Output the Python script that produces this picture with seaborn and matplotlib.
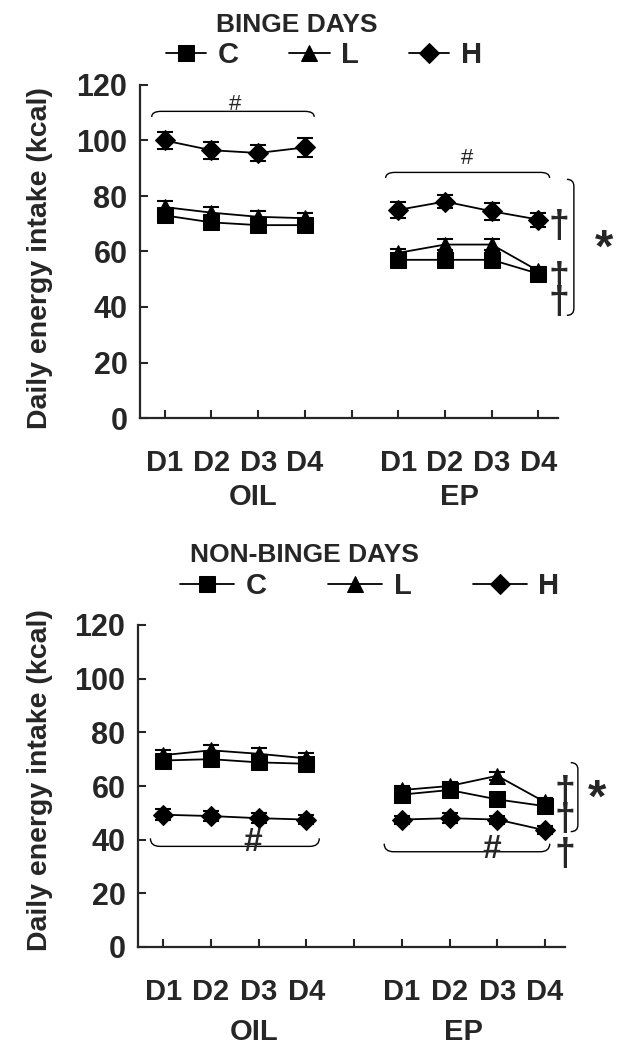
"""
Daily energy intake, binge vs non-binge days (OIL / EP)
"""

import matplotlib.pyplot as plt
import numpy as np
import pandas as pd
import seaborn as sns
from matplotlib.path import Path
from matplotlib.patches import PathPatch
from matplotlib.transforms import blended_transform_factory

days = ["D1", "D2", "D3", "D4"]
phases = ["OIL", "EP"]
groups = ["C", "L", "H"]
positions = [1, 2, 3, 4, 6, 7, 8, 9]

# binge days (OIL D1-D4, EP D1-D4)
binge_C = [73, 70.5, 69.5, 69.5, 57, 57, 57, 52]
binge_L = [76, 74, 72.5, 72, 59.5, 62.5, 62.5, 53]
binge_H = [100, 96.5, 95.5, 97.5, 75, 78, 74.5, 71.5]
binge_err_C = [2, 2, 2, 2, 1.5, 1.5, 1.5, 1.5]
binge_err_L = [2.2, 2.2, 2, 2, 1.5, 2, 2, 1.5]
binge_err_H = [3, 3, 3, 3.5, 3, 2.5, 3, 2.5]

# non-binge days
nonbinge_C = [69.5, 70, 68.8, 68.3, 56.8, 58.5, 55, 52.5]
nonbinge_L = [71.5, 73.3, 72, 70.3, 58.5, 60, 63.8, 54]
nonbinge_H = [49.3, 48.8, 48, 47.5, 47.5, 48, 47.5, 43.5]
nonbinge_err_C = [2, 2, 2, 2, 2, 1.5, 1.5, 1.5]
nonbinge_err_L = [1.8, 2, 2, 2, 1.5, 1.5, 1.5, 1.5]
nonbinge_err_H = [2, 2, 1.8, 1.8, 1.5, 1.8, 1.5, 1.5]

markers = {"C": "s", "L": "^", "H": "D"}
msizes = {"C": 11, "L": 12, "H": 10.5}


def make_df(vals, errs):
    rows = []
    for g in groups:
        for i, p in enumerate(positions):
            rows.append({"group": g, "pos": p, "phase": phases[i // 4],
                         "value": vals[g][i], "err": errs[g][i]})
    return pd.DataFrame(rows)


binge = make_df({"C": binge_C, "L": binge_L, "H": binge_H},
                {"C": binge_err_C, "L": binge_err_L, "H": binge_err_H})
nonbinge = make_df({"C": nonbinge_C, "L": nonbinge_L, "H": nonbinge_H},
                   {"C": nonbinge_err_C, "L": nonbinge_err_L, "H": nonbinge_err_H})

sns.set_style("ticks")
plt.rcParams["font.family"] = ["Liberation Sans", "DejaVu Sans"]
plt.rcParams["font.weight"] = "bold"


def hbracket(ax, x0, x1, y, h, dx=0.2):
    verts = [(x0, y - h), (x0, y), (x0 + dx, y), (x1 - dx, y), (x1, y), (x1, y - h)]
    codes = [Path.MOVETO, Path.CURVE3, Path.CURVE3, Path.LINETO, Path.CURVE3, Path.CURVE3]
    ax.add_patch(PathPatch(Path(verts, codes), fill=False, lw=1.0, color="black", clip_on=False))


def vbracket(ax, x, y0, y1, w=0.15, dy=2.5):
    verts = [(x - w, y0), (x, y0), (x, y0 + dy), (x, y1 - dy), (x, y1), (x - w, y1)]
    codes = [Path.MOVETO, Path.CURVE3, Path.CURVE3, Path.LINETO, Path.CURVE3, Path.CURVE3]
    ax.add_patch(PathPatch(Path(verts, codes), fill=False, lw=1.0, color="black", clip_on=False))


def draw_panel(ax, df, leg_anchor, leg_len, leg_colspace, group_y):
    for ph in phases:
        sub = df[df.phase == ph]
        for g in groups:
            s = sub[sub.group == g]
            ax.errorbar(s.pos, s.value, yerr=s.err, fmt="none", ecolor="black",
                        elinewidth=1.3, capsize=6, capthick=1.5, zorder=2)
        sns.lineplot(data=sub, x="pos", y="value", hue="group", style="group",
                     hue_order=groups, style_order=groups,
                     palette={g: "black" for g in groups}, markers=markers,
                     dashes=False, linewidth=1.3, markersize=10,
                     markeredgecolor="black", ax=ax, legend=(ph == "OIL"), zorder=3)
    for line in ax.lines:
        m = line.get_marker()
        for g, mk in markers.items():
            if m == mk:
                line.set_markersize(msizes[g])
    handles, labels = ax.get_legend_handles_labels()
    keep = [(h, l) for h, l in zip(handles, labels) if l in groups]
    ax.legend([k[0] for k in keep], [k[1] for k in keep], loc="center",
              bbox_to_anchor=leg_anchor, ncol=3, frameon=False, fontsize=21,
              handlelength=leg_len, handletextpad=0.4, columnspacing=leg_colspace,
              borderaxespad=0)

    ax.set_xlim(0.47, 9.42)
    ax.set_ylim(0, 120)
    ax.set_yticks(np.arange(0, 121, 20))
    ax.set_xticks(range(1, 10))
    ax.set_xticklabels(days + [""] + days)
    ax.set_xlabel("")
    ax.set_ylabel("")
    ax.tick_params(direction="in", length=6, width=1.5, labelsize=21)
    ax.tick_params(axis="x", pad=22)
    ax.tick_params(axis="y", pad=9, labelsize=22)
    for side in ["top", "right"]:
        ax.spines[side].set_visible(False)
    for side in ["left", "bottom"]:
        ax.spines[side].set_linewidth(1.6)
    tr = blended_transform_factory(ax.transData, ax.transAxes)
    ax.text(2.9, group_y, "OIL", transform=tr, ha="center", va="center", fontsize=21)
    ax.text(7.3, group_y, "EP", transform=tr, ha="center", va="center", fontsize=21)


fig = plt.figure(figsize=(6.21, 10.5), dpi=100)
ax1 = fig.add_axes([140 / 621, 1 - 418 / 1050, 418 / 621, 333 / 1050])
ax2 = fig.add_axes([138 / 621, 1 - 947 / 1050, 427 / 621, 322 / 1050])

draw_panel(ax1, binge, (0.44, 1.09), 1.4, 1.7, -0.237)
draw_panel(ax2, nonbinge, (0.543, 1.12), 1.85, 2.1, -0.264)

fig.text(0.478, 0.976, "BINGE DAYS", ha="center", va="center", fontsize=19)
fig.text(0.49, 0.471, "NON-BINGE DAYS", ha="center", va="center", fontsize=19)
for yc in [0.754, 0.257]:
    fig.text(0.064, yc, "Daily energy intake (kcal)", rotation=90,
             ha="center", va="center", fontsize=20.5)

# binge annotations
hbracket(ax1, 0.72, 4.2, 110.5, 2)
ax1.text(2.5, 113, "#", ha="center", va="center", fontsize=16, fontweight="normal")
hbracket(ax1, 5.73, 9.24, 88.5, 2)
ax1.text(7.47, 93.5, "#", ha="center", va="center", fontsize=16, fontweight="normal")
vbracket(ax1, 9.76, 37, 86)
ax1.text(10.4, 60.5, "*", ha="center", va="center", fontsize=34, clip_on=False)
for yy in [69, 50, 41.5]:
    ax1.text(9.45, yy, "\u2020", ha="center", va="center", fontsize=27, clip_on=False)

# non-binge annotations
hbracket(ax2, 0.73, 4.27, 37.5, -3)
ax2.text(2.88, 39, "#", ha="center", va="center", fontsize=24)
hbracket(ax2, 5.63, 9.1, 35.5, -3)
ax2.text(7.88, 36.5, "#", ha="center", va="center", fontsize=24)
vbracket(ax2, 9.69, 43, 68.7)
ax2.text(10.1, 55, "*", ha="center", va="center", fontsize=34, clip_on=False)
for yy in [57.5, 47.4, 34.3]:
    ax2.text(9.42, yy, "\u2020", ha="center", va="center", fontsize=27, clip_on=False)

fig.savefig("out.png", dpi=100)
plt.close(fig)
